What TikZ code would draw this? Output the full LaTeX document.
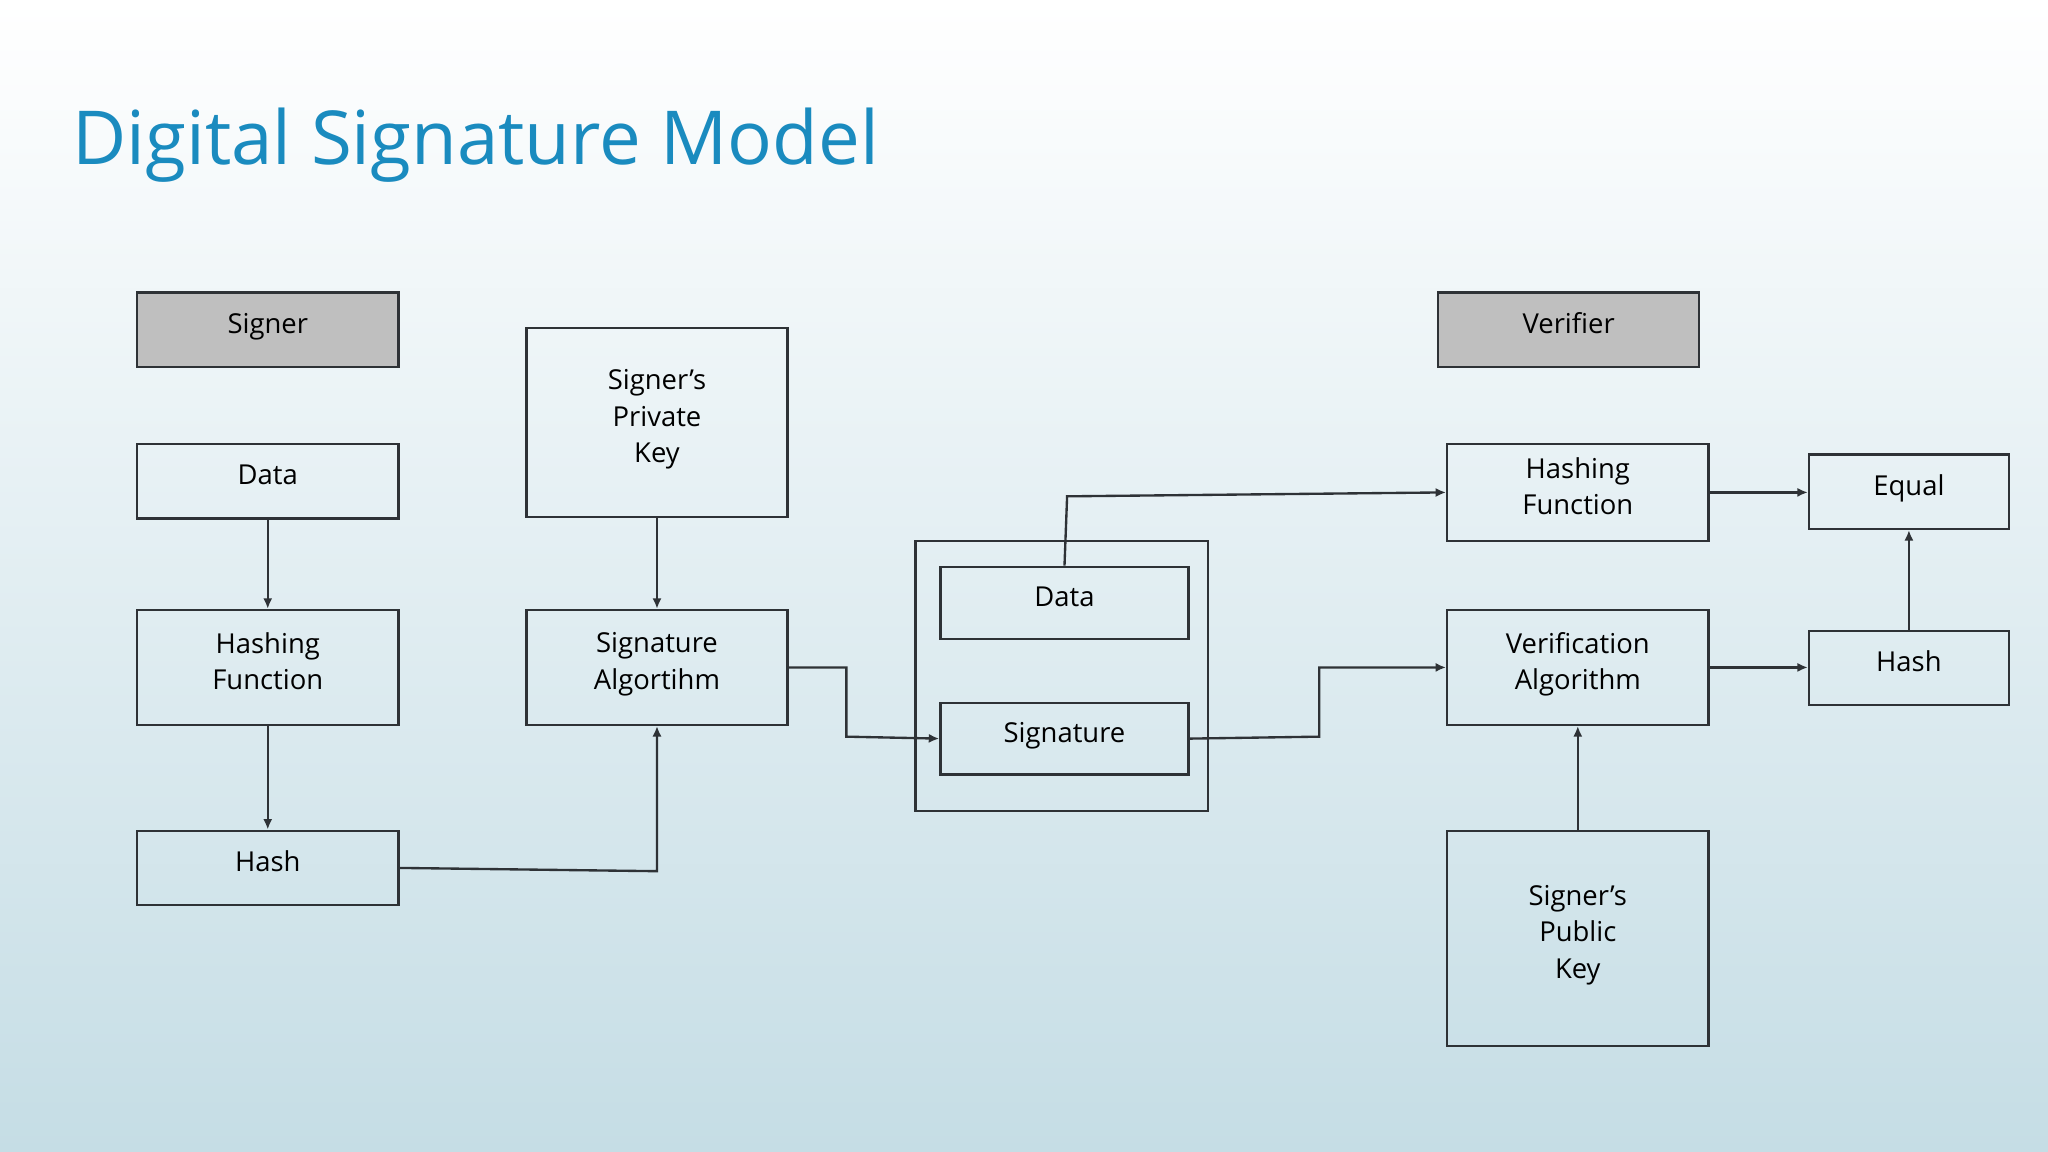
\documentclass[tikz,border=0pt]{standalone}
\usepackage{fontspec}
\setmainfont{Open Sans}
\usetikzlibrary{arrows.meta}
\definecolor{ln}{HTML}{2E3236}
\definecolor{ttl}{HTML}{1A8BBF}
\begin{document}
\begin{tikzpicture}[x=1pt,y=-1pt,
  box/.style={draw=ln,line width=1.8pt,minimum width=200pt,align=center,font=\fontsize{21}{28}\selectfont,inner sep=0pt,text depth=10pt},
  hdr/.style={box,fill=gray!50},
  ar/.style={draw=ln,line width=1.8pt,-{Latex[length=8pt,width=7pt]}},
  pl/.style={draw=ln,line width=1.8pt}]
\shade[top color=white,bottom color={rgb,255:red,197;green,221;blue,229},middle color={rgb,255:red,226;green,238;blue,242}] (0,0) rectangle (1568,882);
\useasboundingbox (0,0) rectangle (1568,882);
\node[anchor=base west,text=ttl,font=\fontsize{57}{66}\selectfont] (title) at (52,126) {Digital Signature Model};
\node[hdr,minimum height=57pt] (signer) at (205,252.5) {Signer};
\node[box,minimum height=57pt] (data) at (205,368.5) {Data};
\node[box,minimum height=88pt] (hf) at (205,511) {Hashing\\Function};
\node[box,minimum height=57pt] (hash) at (205,664.5) {Hash};
\node[box,minimum height=145pt] (pk) at (503,323.5) {Signer’s\\Private\\Key};
\node[box,minimum height=88pt] (sa) at (503,511) {Signature\\Algortihm};
\node[box,minimum width=224pt,minimum height=207pt] (outer) at (813,517.5) {};
\node[box,minimum width=190pt,minimum height=55pt] (d2) at (815,461.5) {Data};
\node[box,minimum width=190pt,minimum height=55pt] (sig) at (815,565.5) {Signature};
\node[hdr,minimum height=57pt] (ver) at (1201,252.5) {Verifier};
\node[box,minimum height=74pt] (hf2) at (1208,377) {Hashing\\Function};
\node[box,minimum height=88pt] (va) at (1208,511) {Verification\\Algorithm};
\node[box,minimum height=165pt] (pub) at (1208,718.5) {Signer’s\\Public\\Key};
\node[box,minimum width=153pt,minimum height=57pt] (eq) at (1461.5,376.5) {Equal};
\node[box,minimum width=153pt,minimum height=57pt] (hash2) at (1461.5,511.5) {Hash};
\draw[ar] (data) -- (hf);
\draw[ar] (hf) -- (hash);
\draw[ar] (pk) -- (sa);
\draw[ar] (hash.east) -- (503,667) -- (sa.south);
\draw[ar] (sa.east) -- (648,511) -- (648,564) -- (sig.west);
\draw[ar] (d2.north) -- (817,380) -- (hf2.west);
\draw[ar] (sig.east) -- (1010,564) -- (1010,511) -- (va.west);
\draw[ar] (hf2.east) -- (eq.west |- hf2.east);
\draw[ar] (va.east) -- (hash2.west |- va.east);
\draw[ar] (hash2.north) -- (eq.south);
\draw[ar] (pub.north) -- (va.south);
\end{tikzpicture}
\end{document}
